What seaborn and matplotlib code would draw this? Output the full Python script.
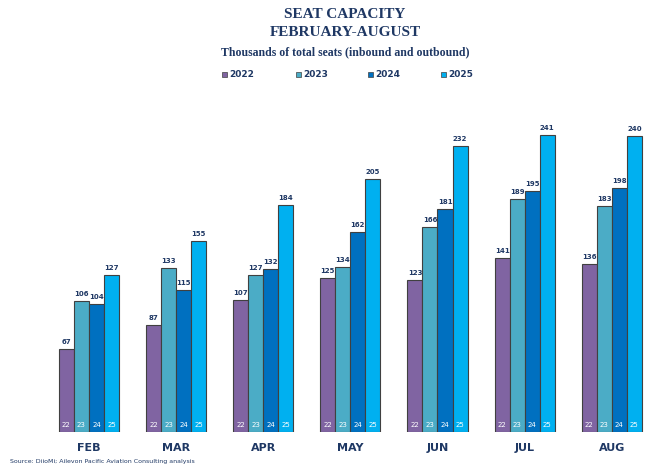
import matplotlib
matplotlib.use("Agg")
import matplotlib.pyplot as plt
import seaborn as sns
import pandas as pd

months = ["FEB", "MAR", "APR", "MAY", "JUN", "JUL", "AUG"]
years = ["2022", "2023", "2024", "2025"]
short_labels = ["22", "23", "24", "25"]
v2022 = [67, 87, 107, 125, 123, 141, 136]
v2023 = [106, 133, 127, 134, 166, 189, 183]
v2024 = [104, 115, 132, 162, 181, 195, 198]
v2025 = [127, 155, 184, 205, 232, 241, 240]
colors = ["#8064A2", "#4BACC6", "#0070C0", "#00B0F0"]

rows = []
for y, vals in zip(years, [v2022, v2023, v2024, v2025]):
    for m, v in zip(months, vals):
        rows.append({"month": m, "year": y, "value": v})
df = pd.DataFrame(rows)

sns.set_theme(style="white")
navy = "#1F3864"

fig = plt.figure(figsize=(6.48, 4.66), dpi=100)
ax = fig.add_axes([41 / 648, (466 - 432) / 466, (651 - 41) / 648, (432 - 110) / 466])

sns.barplot(data=df, x="month", y="value", hue="year", hue_order=years,
            palette=colors, width=0.69, edgecolor="#404040", linewidth=0.8,
            saturation=1, ax=ax, legend=False)

ax.set_xlim(-0.55, 6.45)
ax.set_ylim(0, 261)
for c, lab in zip(ax.containers, short_labels):
    ax.bar_label(c, padding=3, fontsize=5, fontweight="bold", color=navy)
    for bar in c:
        ax.text(bar.get_x() + bar.get_width() / 2, 3, lab, ha="center",
                va="bottom", fontsize=5, color="white")

for s in ax.spines.values():
    s.set_visible(False)
ax.set_yticks([])
ax.set_xlabel("")
ax.set_ylabel("")
ax.tick_params(axis="x", length=0, pad=8)
for t in ax.get_xticklabels():
    t.set_fontweight("bold")
    t.set_color(navy)
    t.set_fontsize(8)

cx = 345 / 648
fig.text(cx, 1 - 14 / 466, "SEAT CAPACITY", ha="center", va="center",
         fontsize=11, fontweight="bold", color=navy, family="Liberation Serif")
fig.text(cx, 1 - 32 / 466, "FEBRUARY-AUGUST", ha="center", va="center",
         fontsize=11, fontweight="bold", color=navy, family="Liberation Serif")
fig.text(cx, 1 - 52 / 466, "Thousands of total seats (inbound and outbound)",
         ha="center", va="center", fontsize=8.5, fontweight="bold", color=navy,
         family="Liberation Serif")

legend_x = [222, 296, 368, 441]
for x, y, c in zip(legend_x, years, colors):
    fig.patches.append(plt.Rectangle((x / 648, 1 - 77 / 466), 5 / 648, 5 / 466,
                                     facecolor=c, edgecolor="#404040", linewidth=0.5,
                                     transform=fig.transFigure, figure=fig))
    fig.text((x + 7) / 648, 1 - 74.5 / 466, y, ha="left", va="center",
             fontsize=6.5, fontweight="bold", color=navy)

fig.text(10 / 648, 1 - 461 / 466, "Source: DiioMi; Ailevon Pacific Aviation Consulting analysis",
         ha="left", va="center", fontsize=4.5, color=navy)

fig.savefig("out.png", dpi=100)
